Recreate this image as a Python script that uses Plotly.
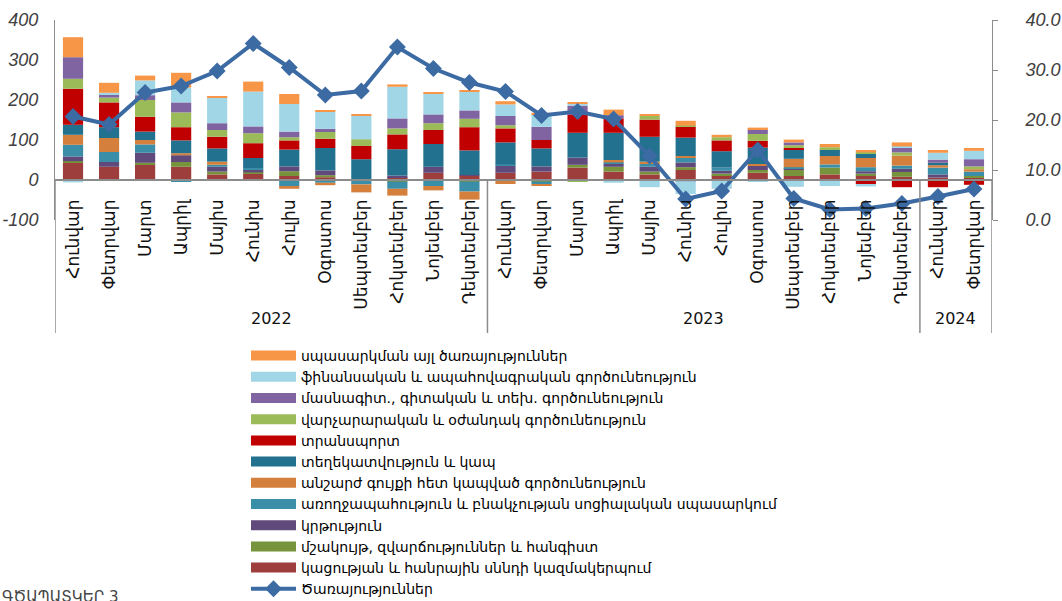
import plotly.graph_objects as go

months = ["Հունվար", "Փետրվար", "Մարտ", "Ապրիլ", "Մայիս", "Հունիս", "Հուլիս", "Օգոստոս",
          "Սեպտեմբեր", "Հոկտեմբեր", "Նոյեմբեր", "Դեկտեմբեր",
          "Հունվար", "Փետրվար", "Մարտ", "Ապրիլ", "Մայիս", "Հունիս", "Հուլիս", "Օգոստոս",
          "Սեպտեմբեր", "Հոկտեմբեր", "Նոյեմբեր", "Դեկտեմբեր",
          "Հունվար", "Փետրվար"]
years = ["2022", "2023", "2024"]
year_counts = [12, 12, 2]
left_ticks = [-100, 0, 100, 200, 300, 400]
left_ticktext = ["-100", "0", "100", "200", "300", "400"]
right_ticks = [0, 10, 20, 30, 40]

# stacked components (bottom of stack first)
accommodation = [43, 33, 39, 33, 14, 15, 10, 7, 2, 7, 18, 10, 18, 21, 31, 21, 14, 25, 12, 18, 10, 14, 12, 8, 6, 6]
culture = [4, 0, 4, 12, 7, 4, 12, 5, 0, -4, 0, -4, 0, -4, 7, 12, 7, 7, 4, 7, 15, 17, 4, 12, 0, 4]
education = [12, 12, 25, 17, 12, 7, 12, 12, 0, 4, 15, 3, 17, 13, 18, 7, 12, 12, 7, 10, 3, 0, 6, 8, 8, 0]
health = [29, 25, 21, -4, 5, 4, -15, -7, -11, -18, -15, -25, 4, -6, 0, 4, 7, 12, 8, 0, 4, 8, 10, 8, 17, 11]
real_estate = [25, 35, 11, 5, 8, 0, -7, -6, -20, -17, -11, -20, -10, -5, 0, 6, 6, 4, 0, 5, 21, 21, 23, 25, 6, 6]
info_comm = [25, 27, 21, 32, 33, 25, 42, 56, 50, 66, 57, 61, 55, 45, 62, 68, 62, 46, 41, 41, 23, 17, 10, 0, 6, 0]
transport = [90, 62, 37, 33, 29, 37, 23, 23, 33, 37, 35, 58, 35, 21, 46, 36, 43, 27, 27, 17, 4, 0, -10, -18, -18, -12]
admin = [25, 12, 42, 37, 17, 25, 8, 17, 17, 15, 17, 21, 8, 0, -4, 0, 9, 3, 8, 17, 7, 5, 4, 8, 0, 7]
professional = [54, 8, 12, 25, 17, 17, 14, 8, 0, 25, 22, 21, 23, 33, 22, 8, 0, -3, 0, 12, 7, 0, 0, 12, 8, 18]
finance = [-6, 4, 37, 37, 64, 87, 69, 42, 58, 79, 52, 46, 29, 31, 5, -7, -18, -32, -22, -4, -17, -15, -6, 3, 17, 21]
other = [50, 25, 12, 37, 4, 25, 25, 4, 4, 6, 2, 5, 8, 4, 4, 14, 3, 12, 6, 4, 7, 8, 6, 10, 7, 7]

services = [20.7, 19.1, 25.5, 26.8, 29.8, 35.3, 30.5, 25.0, 25.8, 34.6, 30.3, 27.5,
            25.7, 20.9, 21.7, 20.2, 12.8, 4.2, 5.8, 14.0, 4.3, 2.1, 2.3, 3.3, 4.7, 6.2]

series = [
    ("կացության և հանրային սննդի կազմակերպում", accommodation, "#9E3E3C"),
    ("մշակույթ, զվարճություններ և հանգիստ", culture, "#77933C"),
    ("կրթություն", education, "#604A7B"),
    ("առողջապահություն և բնակչության սոցիալական սպասարկում", health, "#3B8EA8"),
    ("անշարժ գույքի հետ կապված գործունեություն", real_estate, "#D4803C"),
    ("տեղեկատվություն և կապ", info_comm, "#22718F"),
    ("տրանսպորտ", transport, "#C00000"),
    ("վարչարարական և օժանդակ գործունեություն", admin, "#9BBB59"),
    ("մասնագիտ., գիտական և տեխ. գործունեություն", professional, "#8064A2"),
    ("ֆինանսական և ապահովագրական գործունեություն", finance, "#A1D6E6"),
    ("սպասարկման այլ ծառայություններ", other, "#F79646"),
]
line_name = "Ծառայություններ"
line_color = "#3C6AA3"

W, H = 1062, 601
ML, MR, MT, MB = 55, 70, 20, 5
PH = H - MT - MB
PW = W - ML - MR


def py(px):
    return (H - MB - px) / PH


def pxx(px):
    return (px - ML) / PW


x = list(range(len(months)))
n = len(series)
fig = go.Figure()
for i, (name, vals, col) in enumerate(series):
    fig.add_trace(go.Bar(x=x, y=vals, name=name, marker=dict(color=col, line=dict(width=0)),
                         legendgroup=name, showlegend=False))
    fig.add_trace(go.Scatter(x=[None], y=[None], mode="lines", name=name,
                             line=dict(color=col, width=10), legendgroup=name,
                             legendrank=100 + (n - i)))

fig.add_trace(go.Scatter(x=x, y=services, name=line_name, yaxis="y2", mode="lines+markers",
                         line=dict(color=line_color, width=4),
                         marker=dict(symbol="diamond", size=13, color=line_color),
                         legendrank=200))

fig.update_layout(
    width=W, height=H,
    margin=dict(l=ML, r=MR, t=MT, b=MB, autoexpand=False),
    paper_bgcolor="white", plot_bgcolor="white",
    barmode="relative", bargap=0.44,
    font=dict(family="DejaVu Sans", color="#000000"),
    xaxis=dict(range=[-0.5, len(months) - 0.5], tickvals=x, ticktext=months,
               tickangle=-90, anchor="free", position=py(180), automargin=False,
               showline=True, linecolor="#8C8C8C", linewidth=1.5,
               showgrid=False, zeroline=False, ticks="", ticklabelstandoff=12,
               tickfont=dict(family="DejaVu Sans", size=17, color="#111111")),
    yaxis=dict(domain=[py(220), 1], range=[-100, 400], tickvals=left_ticks, ticktext=left_ticktext,
               showgrid=False, zeroline=False, showline=True, linecolor="#8C8C8C", linewidth=1,
               ticks="", ticklabelstandoff=12, automargin=False,
               tickfont=dict(family="Liberation Sans", size=18, color="#404040", style="italic")),
    yaxis2=dict(overlaying="y", side="right", range=[0, 40], tickvals=right_ticks,
                tickformat=".1f", showgrid=False, zeroline=False, showline=True, automargin=False,
                linecolor="#8C8C8C", linewidth=1, ticks="outside", ticklen=5, tickcolor="#8C8C8C",
                ticklabelstandoff=24,
                tickfont=dict(family="Liberation Sans", size=18, color="#404040", style="italic")),
    legend=dict(x=pxx(246), y=py(340), xanchor="left", yanchor="top",
                font=dict(family="DejaVu Sans", size=14, color="#000000"),
                itemwidth=45, tracegroupgap=0, bgcolor="rgba(0,0,0,0)"),
)

# group separators for the multi-level category axis
bounds = [-0.5]
acc = -0.5
for c in year_counts:
    acc += c
    bounds.append(acc)
for b in bounds:
    fig.add_shape(type="line", xref="x", yref="paper", x0=b, x1=b, y0=py(333), y1=py(180),
                  line=dict(color="#8C8C8C", width=1.5))

start = 0
for yr, c in zip(years, year_counts):
    fig.add_annotation(x=start + (c - 1) / 2, y=py(318), xref="x", yref="paper", text=yr,
                       showarrow=False, font=dict(family="DejaVu Sans", size=16, color="#111111"))
    start += c

fig.add_annotation(x=pxx(0), y=py(586), xref="paper", yref="paper", xanchor="left", yanchor="top",
                   text="ԳԾԱՊԱՏԿԵՐ 3", showarrow=False,
                   font=dict(family="DejaVu Sans", size=15, color="#444444"))

fig.write_html("out.html", config={"displayModeBar": False},
               post_script="document.body.style.margin='0';document.body.style.overflow='hidden';")
